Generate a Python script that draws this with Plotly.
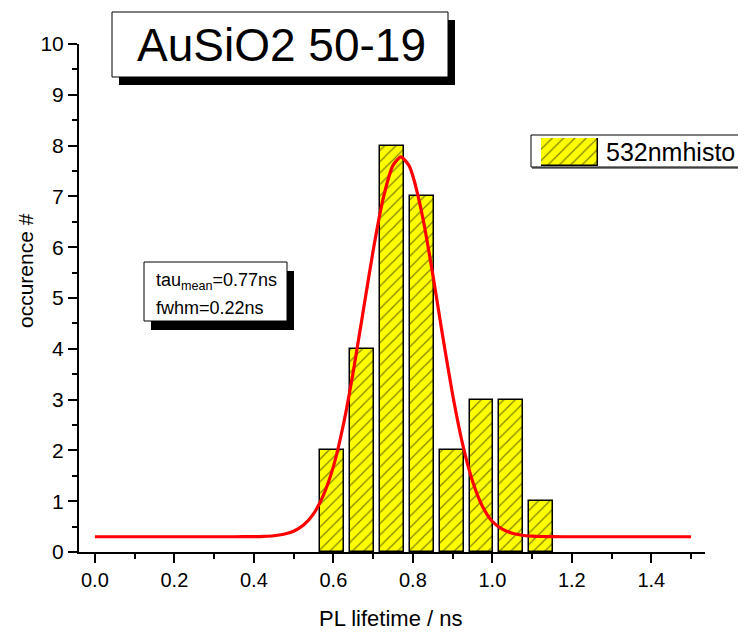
import plotly.graph_objects as go

# ---- data ----
bin_centers = [0.5975, 0.6725, 0.7475, 0.8225, 0.8975, 0.9725, 1.0475, 1.1225]
counts = [2, 4, 8, 7, 2, 3, 3, 1]
bar_width = 0.06

fit_x = [0.0, 0.2, 0.35, 0.4, 0.425, 0.45, 0.475, 0.5, 0.525, 0.55, 0.575, 0.6,
         0.625, 0.65, 0.675, 0.7, 0.725, 0.75, 0.77, 0.79, 0.8, 0.825, 0.85, 0.875,
         0.9, 0.925, 0.95, 0.975, 1.0, 1.025, 1.05, 1.075, 1.1, 1.125, 1.15, 1.2, 1.5]
fit_y = [0.30, 0.30, 0.30, 0.303, 0.308, 0.32, 0.35, 0.41, 0.53, 0.75, 1.12, 1.68,
         2.50, 3.55, 4.74, 5.93, 6.95, 7.61, 7.78, 7.61, 7.40, 6.58, 5.47, 4.25,
         3.10, 2.13, 1.40, 0.90, 0.60, 0.45, 0.37, 0.33, 0.313, 0.305, 0.302, 0.30, 0.30]

x_ticks = [0.0, 0.2, 0.4, 0.6, 0.8, 1.0, 1.2, 1.4]
x_tick_labels = ["0.0", "0.2", "0.4", "0.6", "0.8", "1.0", "1.2", "1.4"]
y_ticks = list(range(0, 11))

title_text = "AuSiO2 50-19"
stat_line1 = "tau<sub>mean</sub>=0.77ns"
stat_line2 = "fwhm=0.22ns"
legend_label = "532nmhisto"
x_title = "PL lifetime / ns"
y_title = "occurence #"

# ---- layout geometry (window pixels; the page body adds an 8px margin) ----
OFF = 8
WIN_W, WIN_H = 746, 633
FW, FH = WIN_W - OFF, WIN_H - OFF
L, R, T, B = 79, 705, 44, 552
PW, PH = R - L, B - T


def px(x):
    return (x - L) / PW


def py(y):
    return (B - y) / PH


FONT = "Arial, Liberation Sans, sans-serif"
YELLOW = "#FFFF00"

fig = go.Figure()

fig.add_trace(go.Bar(
    x=bin_centers, y=counts, width=bar_width,
    marker=dict(color=YELLOW, line=dict(color="black", width=1.5),
                pattern=dict(shape="/", fgcolor="black", bgcolor=YELLOW,
                             size=8, solidity=0.15)),
    showlegend=False, xaxis="x", yaxis="y"))

fig.add_trace(go.Scatter(
    x=fit_x, y=fit_y, mode="lines",
    line=dict(color="#FF0000", width=3.2, shape="spline", smoothing=0.6),
    showlegend=False, xaxis="x", yaxis="y"))

# legend swatch drawn as a bar on a tiny helper axis
fig.add_trace(go.Bar(
    x=[0.5], y=[1], width=[1],
    marker=dict(color=YELLOW, line=dict(color="black", width=1.5),
                pattern=dict(shape="/", fgcolor="black", bgcolor=YELLOW,
                             size=8, solidity=0.15)),
    showlegend=False, xaxis="x2", yaxis="y2", hoverinfo="skip"))

axis_common = dict(showgrid=False, zeroline=False, showline=True, linecolor="black",
                   linewidth=2, ticks="outside", ticklen=9, tickwidth=2,
                   tickcolor="black")

fig.update_layout(
    width=FW, height=FH,
    margin=dict(l=L - OFF, r=WIN_W - R, t=T - OFF, b=WIN_H - B, pad=0),
    paper_bgcolor="white", plot_bgcolor="white",
    font=dict(family=FONT, color="black"),
    showlegend=False,
    bargap=0,
    xaxis=dict(range=[-0.04, 1.535], tickvals=x_ticks, ticktext=x_tick_labels,
               minor=dict(dtick=0.1, tick0=0, ticks="outside", ticklen=5,
                          tickwidth=2, tickcolor="black"),
               tickfont=dict(family=FONT, size=20, color="black"),
               **axis_common),
    yaxis=dict(range=[0, 10], tickvals=y_ticks,
               minor=dict(dtick=0.5, tick0=0, ticks="outside", ticklen=5,
                          tickwidth=2, tickcolor="black"),
               tickfont=dict(family=FONT, size=21, color="black"),
               **axis_common),
    xaxis2=dict(domain=[px(541), px(598)], range=[0, 1], visible=False,
                anchor="y2", fixedrange=True),
    yaxis2=dict(domain=[py(166), py(138)], range=[0, 1], visible=False,
                anchor="x2", fixedrange=True),
)

shapes = []


def rect(x0, y0, x1, y1, fill, line_color, lw, layer="above"):
    shapes.append(dict(type="rect", xref="paper", yref="paper",
                       x0=px(x0), x1=px(x1), y0=py(y1), y1=py(y0),
                       fillcolor=fill, line=dict(color=line_color, width=lw),
                       layer=layer))


# x-axis extension left of y-axis
shapes.append(dict(type="line", xref="paper", yref="paper", x0=px(71), x1=0,
                   y0=0, y1=0, line=dict(color="black", width=2), layer="above"))

# title box with shadow
rect(119, 20, 455, 85, "black", "black", 0)
rect(112, 12, 448, 77, "white", "black", 1)
# stats box with shadow
rect(151, 271, 294, 330, "black", "black", 0)
rect(144, 262, 287, 321, "white", "black", 1)
# legend box (runs off the right edge) with grey shadow line
shapes.append(dict(type="line", xref="paper", yref="paper", x0=px(532), x1=px(760),
                   y0=py(168), y1=py(168), line=dict(color="#808080", width=2),
                   layer="below"))
rect(531, 135, 760, 167, "white", "black", 1, layer="below")

fig.update_layout(shapes=shapes)

ann = []
ann.append(dict(text=title_text, x=px(281), y=py(45), xref="paper", yref="paper",
                xanchor="center", yanchor="middle", showarrow=False,
                font=dict(family=FONT, size=46, color="black")))
ann.append(dict(text=stat_line1, x=px(154), y=py(281), xref="paper", yref="paper",
                xanchor="left", yanchor="middle", showarrow=False,
                font=dict(family=FONT, size=18, color="black")))
ann.append(dict(text=stat_line2, x=px(154), y=py(308), xref="paper", yref="paper",
                xanchor="left", yanchor="middle", showarrow=False,
                font=dict(family=FONT, size=18, color="black")))
ann.append(dict(text=legend_label, x=px(604), y=py(152), xref="paper", yref="paper",
                xanchor="left", yanchor="middle", showarrow=False,
                font=dict(family=FONT, size=25, color="black")))
ann.append(dict(text=x_title, x=px(390), y=py(618), xref="paper", yref="paper",
                xanchor="center", yanchor="middle", showarrow=False,
                font=dict(family=FONT, size=22, color="black")))
ann.append(dict(text=y_title, x=px(25), y=py(271), xref="paper", yref="paper",
                xanchor="center", yanchor="middle", showarrow=False, textangle=-90,
                font=dict(family=FONT, size=21, color="black")))
fig.update_layout(annotations=ann)

fig.write_html("out.html")
